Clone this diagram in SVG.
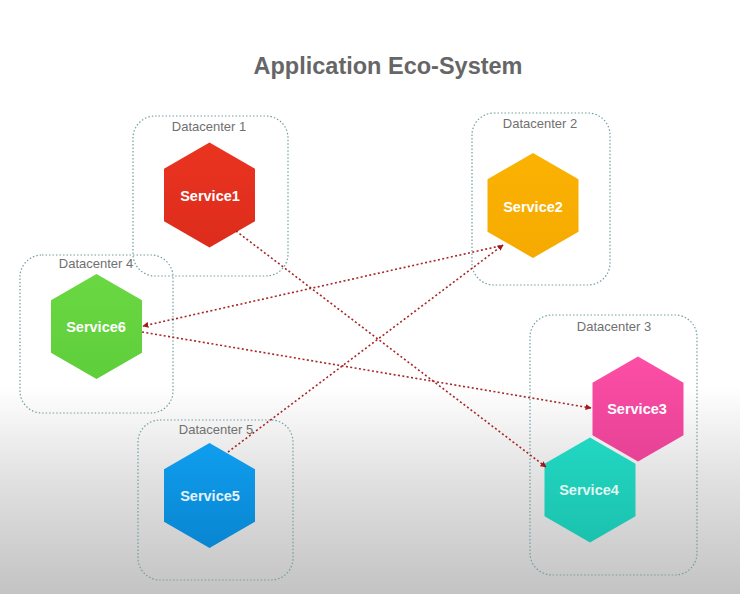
<svg xmlns="http://www.w3.org/2000/svg" width="740" height="594" viewBox="0 0 740 594">
  <defs>
    <linearGradient id="bg" x1="0" y1="0" x2="0" y2="1">
      <stop offset="0" stop-color="#ffffff"/>
      <stop offset="0.65" stop-color="#ffffff"/>
      <stop offset="0.8" stop-color="#e2e2e2"/>
      <stop offset="1" stop-color="#c3c3c3"/>
    </linearGradient>
    <linearGradient id="g1" x1="0" y1="0" x2="0" y2="1"><stop offset="0" stop-color="#ea3420"/><stop offset="1" stop-color="#dd2c1c"/></linearGradient>
    <linearGradient id="g2" x1="0" y1="0" x2="0" y2="1"><stop offset="0" stop-color="#fbb202"/><stop offset="1" stop-color="#f6aa00"/></linearGradient>
    <linearGradient id="g3" x1="0" y1="0" x2="0" y2="1"><stop offset="0" stop-color="#fd4ea5"/><stop offset="1" stop-color="#e64296"/></linearGradient>
    <linearGradient id="g4" x1="0" y1="0" x2="0" y2="1"><stop offset="0" stop-color="#22d7c2"/><stop offset="1" stop-color="#1bc2ae"/></linearGradient>
    <linearGradient id="g5" x1="0" y1="0" x2="0" y2="1"><stop offset="0" stop-color="#0f9eee"/><stop offset="1" stop-color="#0985d1"/></linearGradient>
    <linearGradient id="g6" x1="0" y1="0" x2="0" y2="1"><stop offset="0" stop-color="#6ad842"/><stop offset="1" stop-color="#5ece3b"/></linearGradient>
    <marker id="arr" viewBox="0 0 10 10" refX="9" refY="5" markerWidth="6" markerHeight="6" markerUnits="userSpaceOnUse" orient="auto">
      <path d="M0,0 L10,5 L0,10 Z" fill="#a11a1a"/>
    </marker>
    <style>
      .dc { fill: none; stroke: #6f9fa0; stroke-width: 1.2; stroke-dasharray: 1.5 2; }
      .dcl { font-family: "Liberation Sans", Arial, sans-serif; font-size: 13px; fill: #707070; text-anchor: middle; }
      .svc { font-family: "Liberation Sans", Arial, sans-serif; font-size: 14.5px; font-weight: bold; fill: #ffffff; text-anchor: middle; }
      .lnk { fill: none; stroke: #a82626; stroke-width: 1.6; stroke-dasharray: 2 2.4; }
      .title { font-family: "Liberation Sans", Arial, sans-serif; font-size: 23.5px; font-weight: bold; fill: #666666; text-anchor: middle; }
    </style>
  </defs>

  <rect x="0" y="0" width="740" height="594" fill="url(#bg)"/>

  <text class="title" x="388" y="74">Application Eco-System</text>

  <g id="datacenter1">
    <rect class="dc" x="133" y="116" width="155" height="160" rx="22"/>
    <text class="dcl" x="209" y="131">Datacenter 1</text>
  </g>
  <g id="datacenter2">
    <rect class="dc" x="472" y="113" width="138" height="172" rx="22"/>
    <text class="dcl" x="540" y="128">Datacenter 2</text>
  </g>
  <g id="datacenter4">
    <rect class="dc" x="20" y="255" width="153" height="158" rx="22"/>
    <text class="dcl" x="96" y="268">Datacenter 4</text>
  </g>
  <g id="datacenter5">
    <rect class="dc" x="138" y="420" width="155" height="160" rx="22"/>
    <text class="dcl" x="216" y="434">Datacenter 5</text>
  </g>
  <g id="datacenter3">
    <rect class="dc" x="530" y="315" width="167" height="260" rx="22"/>
    <text class="dcl" x="614" y="331">Datacenter 3</text>
  </g>

  <g id="service1">
    <polygon points="209.5,142.5 255,168.75 255,221.25 209.5,247.5 164,221.25 164,168.75" fill="url(#g1)"/>
    <text class="svc" x="210" y="201">Service1</text>
  </g>
  <g id="service2">
    <polygon points="533,153 578.5,179.25 578.5,231.75 533,258 487.5,231.75 487.5,179.25" fill="url(#g2)"/>
    <text class="svc" x="533" y="212">Service2</text>
  </g>
  <g id="service6">
    <polygon points="96.5,274 142,300.25 142,352.75 96.5,379 51,352.75 51,300.25" fill="url(#g6)"/>
    <text class="svc" x="96" y="332">Service6</text>
  </g>
  <g id="service5">
    <polygon points="209.5,443 255,469.25 255,521.75 209.5,548 164,521.75 164,469.25" fill="url(#g5)"/>
    <text class="svc" x="210" y="501" style="fill:#e4f2fb">Service5</text>
  </g>
  <g id="service3">
    <polygon points="638,356.5 683.5,382.75 683.5,435.25 638,461.5 592.5,435.25 592.5,382.75" fill="url(#g3)"/>
    <text class="svc" x="637" y="414">Service3</text>
  </g>
  <g id="service4">
    <polygon points="590,437.5 635.5,463.75 635.5,516.25 590,542.5 544.5,516.25 544.5,463.75" fill="url(#g4)"/>
    <text class="svc" x="589" y="495" style="fill:#e3f4f1">Service4</text>
  </g>

  <g id="connectors">
    <line class="lnk" x1="236" y1="231" x2="546" y2="467" marker-end="url(#arr)"/>
    <line class="lnk" x1="142" y1="332" x2="591" y2="408" marker-end="url(#arr)"/>
    <line class="lnk" x1="500" y1="246" x2="143" y2="326" marker-end="url(#arr)"/>
    <line class="lnk" x1="228" y1="452" x2="503" y2="245" marker-end="url(#arr)"/>
  </g>
</svg>
